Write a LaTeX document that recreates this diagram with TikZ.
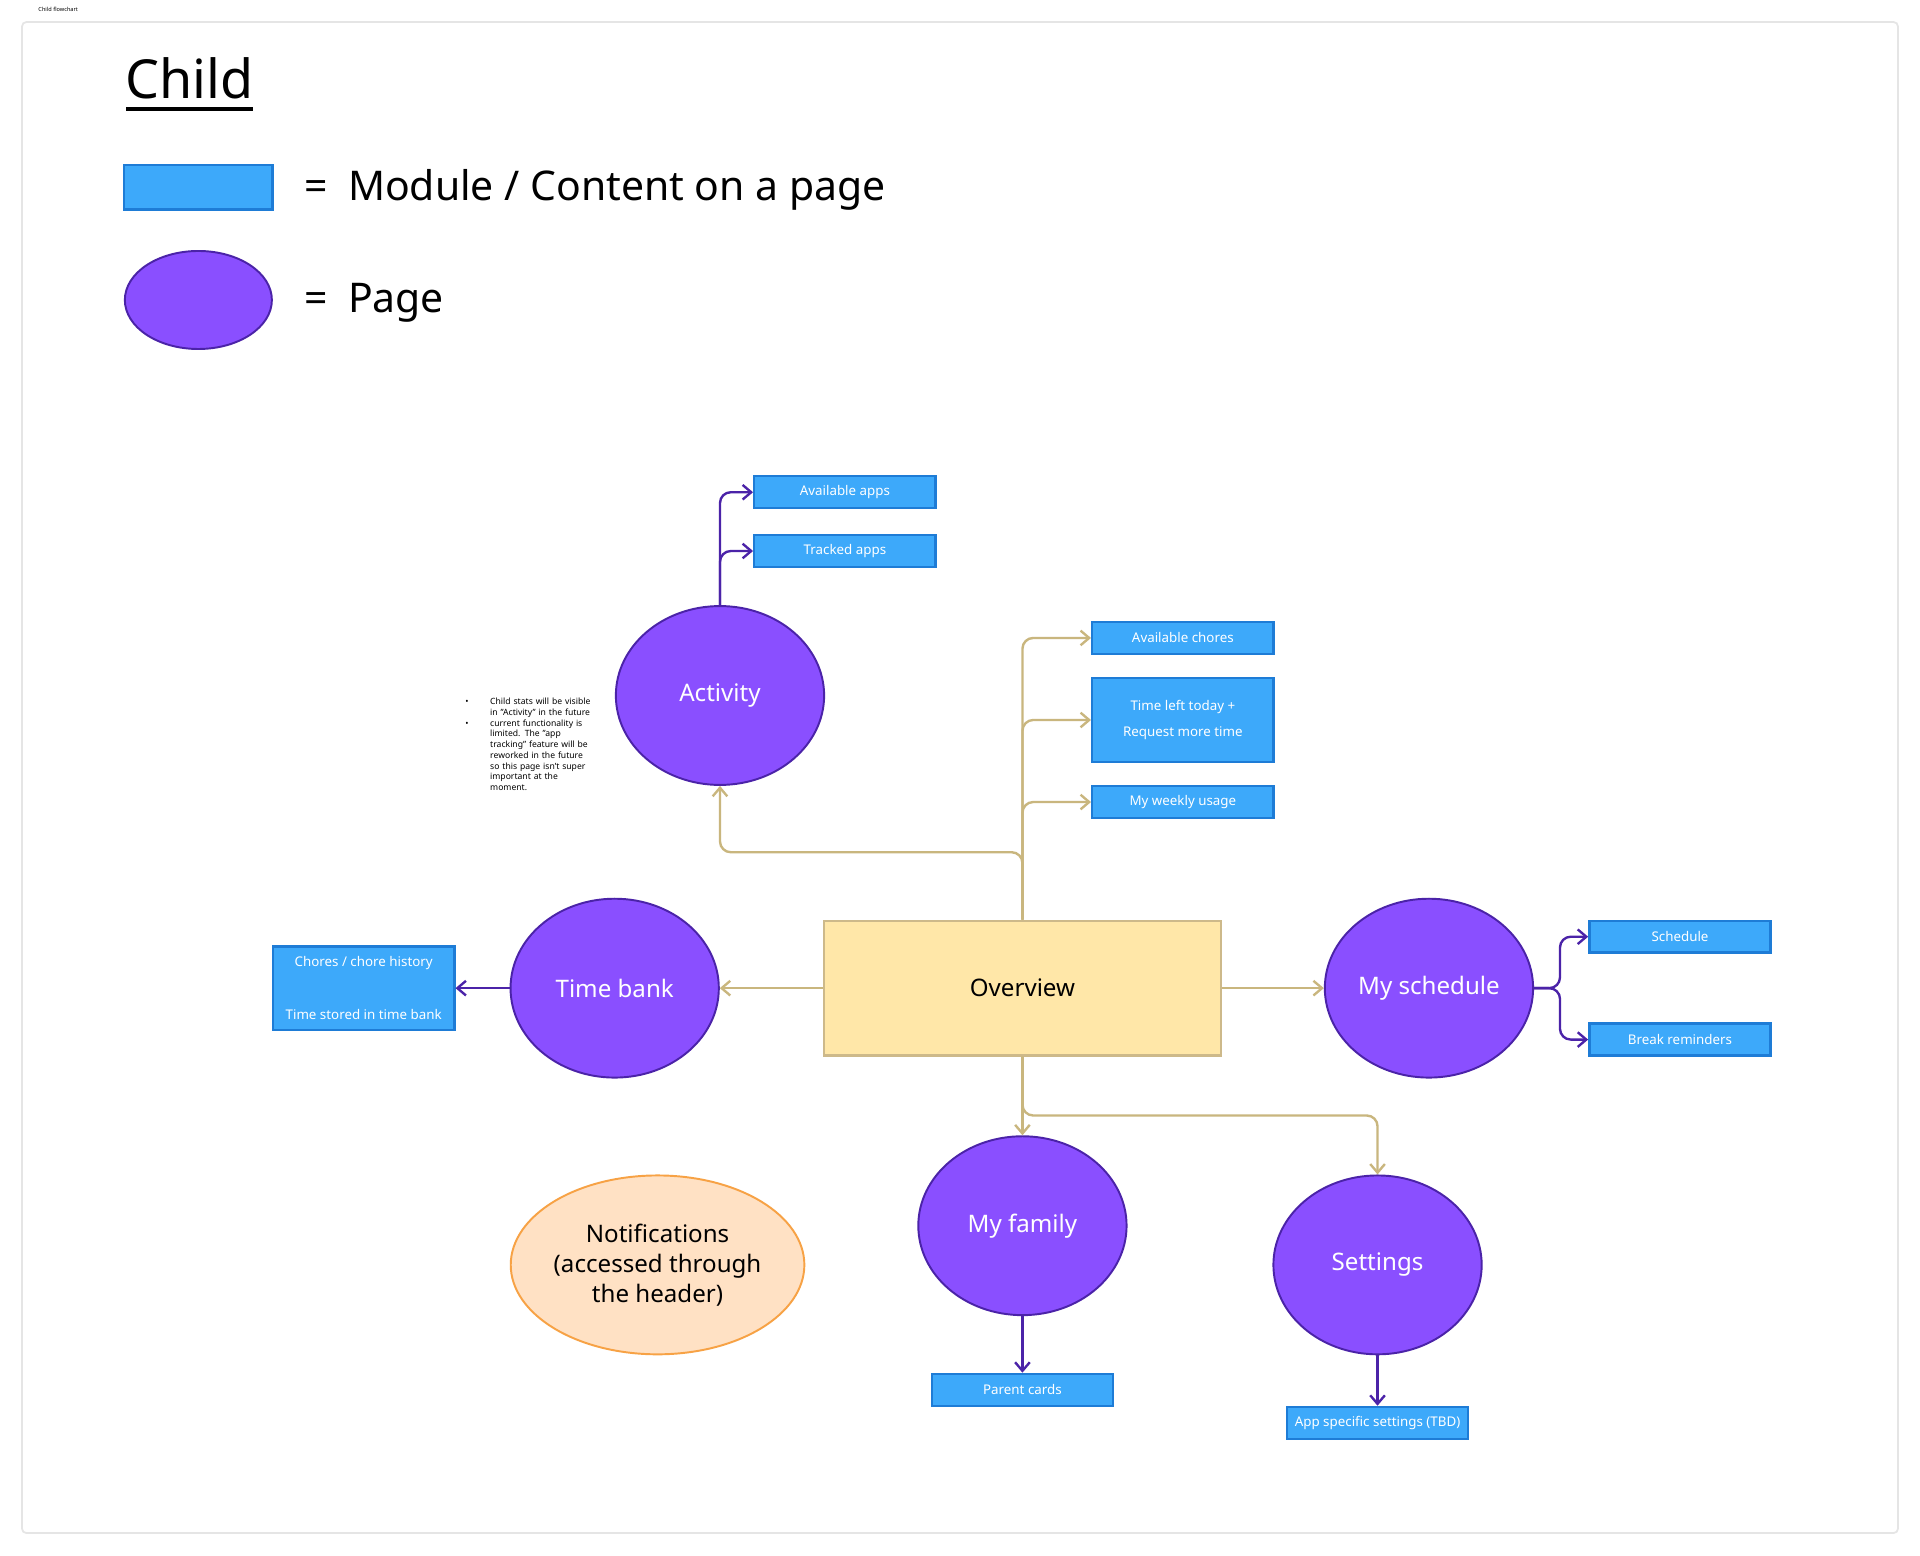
\documentclass[tikz,border=0pt]{standalone}
\usepackage{fontspec}
\setmainfont{Noto Sans}
\usetikzlibrary{shapes.geometric,arrows.meta}
\definecolor{modblue}{HTML}{3DA9FA}
\definecolor{modedge}{HTML}{1E7CD6}
\definecolor{pagepurple}{HTML}{8A4FFF}
\definecolor{pageedge}{HTML}{4B23A8}
\definecolor{ovfill}{HTML}{FFE7A8}
\definecolor{ovedge}{HTML}{CDB98A}
\definecolor{tan}{HTML}{C9B67E}
\definecolor{notefill}{HTML}{FFE1C4}
\definecolor{noteedge}{HTML}{F7A245}
\newcommand\fsz[1]{\fontsize{#1}{1.25\dimexpr#1\relax}\selectfont}
\tikzset{
  module/.style={rectangle,draw=modedge,fill=modblue,line width=0.55pt,
    minimum width=1.48cm,minimum height=0.26cm,inner sep=0pt,text=white,
    font=\fsz{3.1pt}\bfseries,align=center},
  page/.style={ellipse,draw=pageedge,fill=pagepurple,line width=0.45pt,
    minimum width=1.7cm,minimum height=1.46cm,inner sep=0pt,text=white,
    font=\fsz{5.6pt}},
  tanline/.style={draw=tan,line width=0.55pt,rounded corners=2.5pt,
    -{Straight Barb[length=2pt,width=3.4pt]}},
  purpline/.style={draw=pageedge,line width=0.55pt,rounded corners=2.5pt,
    -{Straight Barb[length=2pt,width=3.4pt]}},
}
\begin{document}
\begin{tikzpicture}[x=0.01cm,y=-0.01cm]
\useasboundingbox (0,0) rectangle (1568,1270);
\fill[white] (0,0) rectangle (1568,1270);
% frame and heading
\draw[black!10,line width=0.4pt,rounded corners=1pt] (18,18) rectangle (1550,1252);
\node[anchor=west,font=\fsz{1.3pt}] (hdr) at (19,8) {Child flowchart};
\node[font=\fsz{12.5pt}\bfseries] (title) at (155,64) {Child};
\draw[line width=0.9pt] (103,89) -- (207,89);
% legend
\node[module,minimum width=1.21cm,minimum height=0.36cm] (legmod) at (162,153) {};
\node[anchor=west,font=\fsz{9.5pt}] (legmodtxt) at (236,155) {=\enspace Module / Content on a page};
\node[page,minimum width=1.2cm,minimum height=0.8cm] (legpage) at (162,245) {};
\node[anchor=west,font=\fsz{9.5pt}] (legpagetxt) at (236,247) {=\enspace Page};
% pages
\node[rectangle,draw=ovedge,fill=ovfill,line width=0.55pt,minimum width=3.24cm,
  minimum height=1.1cm,font=\fsz{5.6pt}] (ov) at (835,807) {Overview};
\node[page] (act) at (588,568) {Activity};
\node[page] (tb) at (502,807) {Time bank};
\node[page] (ms) at (1167,807) {My schedule};
\node[page] (fam) at (835,1001) {My family};
\node[page] (set) at (1125,1033) {Settings};
\node[ellipse,draw=noteedge,fill=notefill,line width=0.45pt,minimum width=2.32cm,
  minimum height=1.46cm,inner sep=0pt,align=center,font=\fsz{5.6pt}] (notif) at (537,1033)
  {Notifications\\(accessed through\\the header)};
% modules
\node[module] (avapps) at (690,402) {Available apps};
\node[module] (trapps) at (690,450) {Tracked apps};
\node[module] (avchores) at (966,521) {Available chores};
\node[module,minimum height=0.69cm,font=\fsz{3.1pt}\bfseries\linespread{1.6}\selectfont] (tleft) at (966,588) {Time left today +\\Request more time};
\node[module] (weekly) at (966,655) {My weekly usage};
\node[module] (sched) at (1372,765) {Schedule};
\node[module] (brk) at (1372,849) {Break reminders};
\node[module,minimum height=0.68cm,font=\fsz{3.1pt}\bfseries\linespread{3.2}\selectfont] (chores) at (297,807) {Chores / chore history\\Time stored in time bank};
\node[module] (parents) at (835,1135) {Parent cards};
\node[module] (appset) at (1125,1162) {App specific settings (TBD)};
% note
\node[anchor=north west,align=left,text width=1.7cm,font=\fsz{2pt}] (note) at (300,526)
  {\begin{itemize}\setlength{\itemsep}{0pt}\setlength{\parskip}{0pt}\setlength{\leftmargin}{2mm}
   \item[\textbullet] Child stats will be visible in "Activity" in the future
   \item[\textbullet] current functionality is limited. The "app tracking" feature will be reworked in the future so this page isn't super important at the moment.
   \end{itemize}};
% connectors
\coordinate (actbend) at (835,696);
\coordinate (setbend) at (835,911);
\coordinate (msfork) at (1274,807);
\draw[purpline] (act.north) |- (avapps.west);
\draw[purpline] (act.north) |- (trapps.west);
\draw[tanline] (ov.north) |- (avchores.west);
\draw[tanline] (ov.north) |- (tleft.west);
\draw[tanline] (ov.north) |- (weekly.west);
\draw[tanline] (ov.north) -- (actbend) -| (act.south);
\draw[tanline] (ov.west) -- (tb.east);
\draw[tanline] (ov.east) -- (ms.west);
\draw[tanline] (ov.south) -- (fam.north);
\draw[tanline] (ov.south) -- (setbend) -| (set.north);
\draw[purpline] (ms.east) -- (msfork) |- (sched.west);
\draw[purpline] (ms.east) -- (msfork) |- (brk.west);
\draw[purpline] (tb.west) -- (chores.east);
\draw[purpline] (fam.south) -- (parents.north);
\draw[purpline] (set.south) -- (appset.north);
\end{tikzpicture}
\end{document}
